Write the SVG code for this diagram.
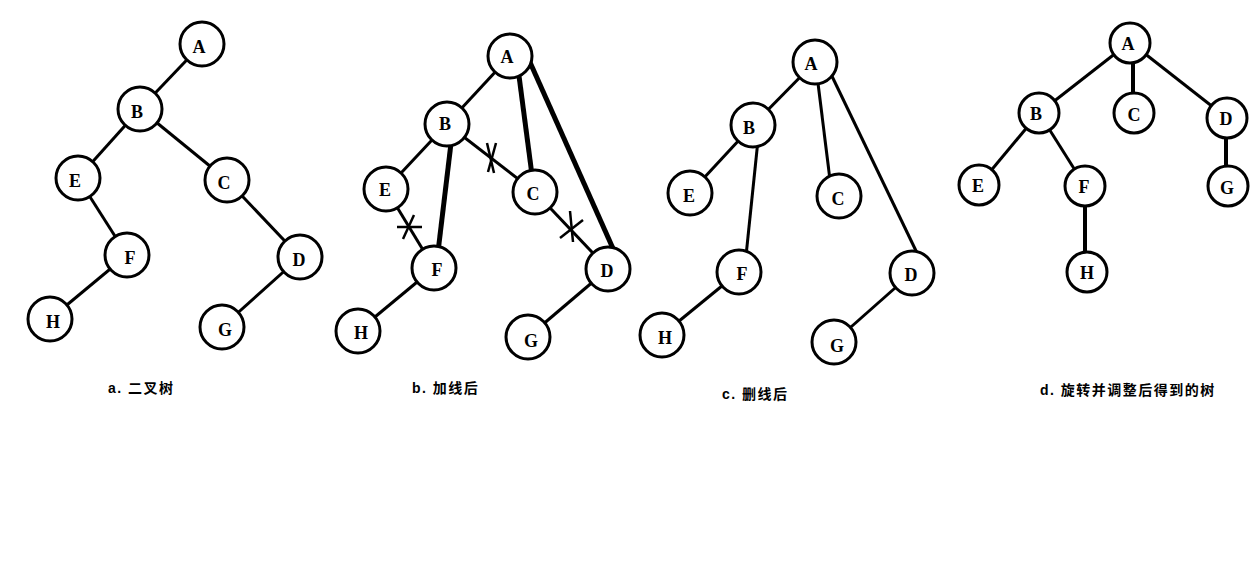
<svg xmlns="http://www.w3.org/2000/svg" width="1250" height="570" viewBox="0 0 1250 570">
<style>
.bg{fill:#fff}
.e{stroke:#000;stroke-width:3;fill:none;stroke-linecap:butt}
.t{stroke:#000;stroke-width:5;fill:none}
.m{stroke:#000;stroke-width:2.5;fill:none}
.d4{stroke:#000;stroke-width:4;fill:none}
.n circle{fill:#fff;stroke:#000;stroke-width:3}
.n text{font-family:"Liberation Serif","DejaVu Serif",serif;font-weight:bold;font-size:18px;text-anchor:middle;fill:#000}
.cap{font-family:"Liberation Sans","Noto Sans CJK SC",sans-serif;font-weight:bold;font-size:14px;letter-spacing:1.5px;fill:#000}
</style>
<rect class="bg" x="0" y="0" width="1250" height="570"/>
<g id="connectors">
  <!-- tree a -->
  <line class="e" x1="202" y1="44" x2="140" y2="109"/>
  <line class="e" x1="140" y1="109" x2="78" y2="178"/>
  <line class="e" x1="140" y1="109" x2="227" y2="180"/>
  <line class="e" x1="78" y1="178" x2="127" y2="255"/>
  <line class="e" x1="127" y1="255" x2="50" y2="319"/>
  <line class="e" x1="227" y1="180" x2="300" y2="257"/>
  <line class="e" x1="300" y1="257" x2="222" y2="327"/>
  <!-- tree b -->
  <line class="e" x1="510" y1="56" x2="447" y2="124"/>
  <line class="e" x1="447" y1="124" x2="386" y2="189"/>
  <line class="e" x1="447" y1="124" x2="535" y2="192"/>
  <line class="e" x1="386" y1="189" x2="434" y2="268"/>
  <line class="e" x1="434" y1="268" x2="358" y2="331"/>
  <line class="e" x1="535" y1="192" x2="608" y2="269"/>
  <line class="e" x1="608" y1="269" x2="528" y2="337"/>
  <line class="t" x1="517.7" y1="66" x2="532" y2="175"/>
  <line class="t" x1="529" y1="60" x2="615" y2="253"/>
  <line class="t" x1="452" y1="135" x2="438" y2="252"/>
  <line class="m" x1="487" y1="143" x2="494" y2="173"/>
  <line class="m" x1="496" y1="143" x2="488" y2="172"/>
  <line class="m" x1="397" y1="227" x2="422" y2="227"/>
  <line class="m" x1="414" y1="215" x2="403" y2="239"/>
  <line class="m" x1="560" y1="238" x2="583" y2="220"/>
  <line class="m" x1="570" y1="211" x2="573" y2="242"/>
  <!-- tree c -->
  <line class="e" x1="815" y1="62" x2="753" y2="125"/>
  <line class="e" x1="753" y1="125" x2="690" y2="193"/>
  <line class="e" x1="758" y1="140" x2="746" y2="256"/>
  <line class="e" x1="739" y1="272" x2="662" y2="335"/>
  <line class="e" x1="817" y1="75" x2="830" y2="180"/>
  <line class="e" x1="829" y1="70" x2="918" y2="255"/>
  <line class="e" x1="912" y1="273" x2="834" y2="342"/>
  <!-- tree d -->
  <line class="e" x1="1130" y1="42" x2="1039" y2="113"/>
  <line class="d4" x1="1133" y1="42" x2="1133" y2="113"/>
  <line class="e" x1="1130" y1="42" x2="1227" y2="118"/>
  <line class="e" x1="1039" y1="113" x2="979" y2="185"/>
  <line class="e" x1="1039" y1="113" x2="1085" y2="186"/>
  <line class="d4" x1="1085" y1="186" x2="1085" y2="272"/>
  <line class="d4" x1="1226" y1="118" x2="1226" y2="186"/>
</g>
<!-- tree a nodes -->
<g id="a-A" class="n"><circle cx="202" cy="44" r="22"/><text x="199" y="53">A</text></g>
<g id="a-B" class="n"><circle cx="140" cy="109" r="22"/><text x="137" y="118">B</text></g>
<g id="a-E" class="n"><circle cx="78" cy="178" r="22"/><text x="75" y="187">E</text></g>
<g id="a-C" class="n"><circle cx="227" cy="180" r="22"/><text x="224" y="189">C</text></g>
<g id="a-F" class="n"><circle cx="127" cy="255" r="22"/><text x="130" y="264">F</text></g>
<g id="a-D" class="n"><circle cx="300" cy="257" r="22"/><text x="299" y="266">D</text></g>
<g id="a-H" class="n"><circle cx="50" cy="319" r="22"/><text x="53" y="328">H</text></g>
<g id="a-G" class="n"><circle cx="222" cy="327" r="22"/><text x="225" y="336">G</text></g>
<!-- tree b nodes -->
<g id="b-A" class="n"><circle cx="510" cy="56" r="22"/><text x="507" y="63">A</text></g>
<g id="b-B" class="n"><circle cx="447" cy="124" r="22"/><text x="445" y="130">B</text></g>
<g id="b-E" class="n"><circle cx="386" cy="189" r="22"/><text x="385" y="196">E</text></g>
<g id="b-C" class="n"><circle cx="535" cy="192" r="22"/><text x="533" y="200">C</text></g>
<g id="b-F" class="n"><circle cx="434" cy="268" r="22"/><text x="437" y="276">F</text></g>
<g id="b-D" class="n"><circle cx="608" cy="269" r="22"/><text x="607" y="277">D</text></g>
<g id="b-H" class="n"><circle cx="358" cy="331" r="22"/><text x="361" y="339">H</text></g>
<g id="b-G" class="n"><circle cx="528" cy="337" r="22"/><text x="531" y="347">G</text></g>
<!-- tree c nodes -->
<g id="c-A" class="n"><circle cx="815" cy="62" r="22"/><text x="811" y="70">A</text></g>
<g id="c-B" class="n"><circle cx="753" cy="125" r="22"/><text x="749" y="134">B</text></g>
<g id="c-E" class="n"><circle cx="690" cy="193" r="22"/><text x="689" y="202">E</text></g>
<g id="c-C" class="n"><circle cx="839" cy="196" r="22"/><text x="838" y="205">C</text></g>
<g id="c-F" class="n"><circle cx="739" cy="272" r="22"/><text x="742" y="280">F</text></g>
<g id="c-D" class="n"><circle cx="912" cy="273" r="22"/><text x="911" y="281">D</text></g>
<g id="c-H" class="n"><circle cx="662" cy="335" r="22"/><text x="665" y="344">H</text></g>
<g id="c-G" class="n"><circle cx="834" cy="342" r="22"/><text x="837" y="352">G</text></g>
<!-- tree d nodes -->
<g id="d-A" class="n"><circle cx="1130" cy="43" r="20"/><text x="1128" y="50">A</text></g>
<g id="d-B" class="n"><circle cx="1039" cy="113" r="20"/><text x="1036" y="120">B</text></g>
<g id="d-C" class="n"><circle cx="1134" cy="113" r="20"/><text x="1134" y="121">C</text></g>
<g id="d-D" class="n"><circle cx="1227" cy="118" r="20"/><text x="1226" y="125">D</text></g>
<g id="d-E" class="n"><circle cx="979" cy="185" r="20"/><text x="978" y="192">E</text></g>
<g id="d-F" class="n"><circle cx="1085" cy="186" r="20"/><text x="1084" y="193">F</text></g>
<g id="d-G" class="n"><circle cx="1228" cy="186" r="20"/><text x="1227" y="194">G</text></g>
<g id="d-H" class="n"><circle cx="1087" cy="272" r="20"/><text x="1087" y="279">H</text></g>
<!-- captions -->
<text class="cap" x="108" y="393">a. 二叉树</text>
<text class="cap" x="412" y="393">b. 加线后</text>
<text class="cap" x="722" y="399">c. 删线后</text>
<text class="cap" x="1040" y="395">d. 旋转并调整后得到的树</text>
</svg>
